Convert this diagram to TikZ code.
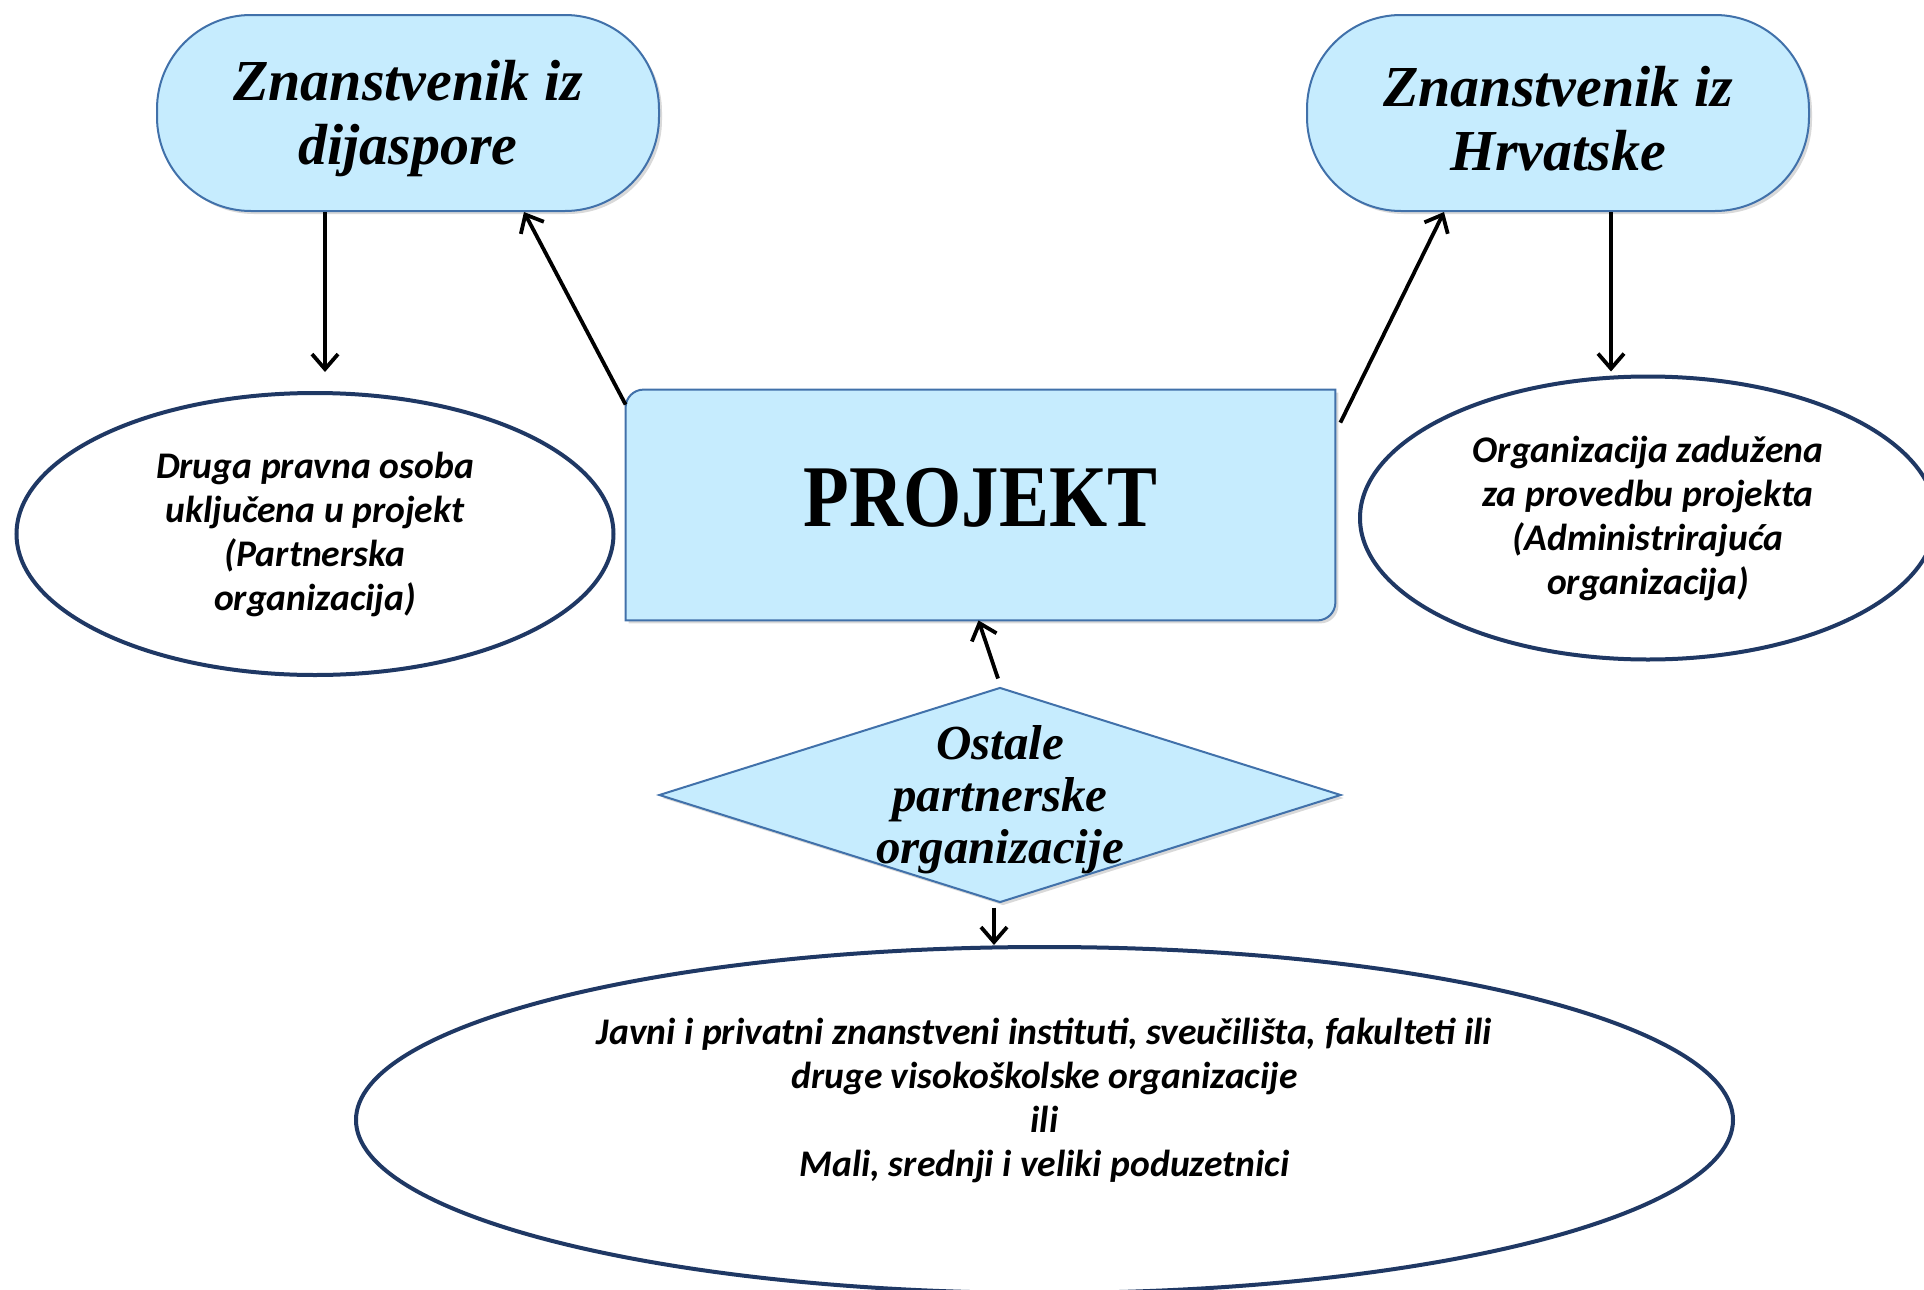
\documentclass[tikz,border=0pt]{standalone}
\usepackage{fontspec}
\setmainfont{Liberation Serif}
\newfontfamily\calibri{Carlito}
\usepackage{tikz,graphicx}
\usetikzlibrary{arrows.meta, shapes.geometric, shadows, calc, backgrounds, positioning}
\definecolor{color1}{RGB}{198,236,254}
\definecolor{color2}{RGB}{65,113,170}
\definecolor{color3}{RGB}{31,56,100}

\begin{document}
\begin{tikzpicture}[x=0.5pt,y=-0.5pt,
	plava/.style={fill=color1,draw=color2,line width=1pt,drop shadow={opacity=0.3,shadow xshift=1.5pt,shadow yshift=-1.5pt}},
	znanstvenik/.style={plava,rounded corners=47pt,minimum width=251pt,minimum height=98pt,inner sep=0pt,align=center,font=\bfseries\itshape\fontsize{29}{32}\selectfont},
	organizacija/.style={ellipse,draw=color3,line width=2pt,fill=white,inner sep=0pt,align=center,font=\calibri\bfseries\itshape\fontsize{18.8}{22}\selectfont},
	strelica/.style={line width=1.9pt,-{Straight Barb[length=7.5pt,width=13pt,line width=1.9pt]}}]
		\clip (0,0) rectangle (1924,1290);
		\node[znanstvenik] (dijaspora) at (408,113) {\\[-6pt]Znanstvenik iz\\dijaspore};
		\node[znanstvenik] (hrvatska) at (1558,113) {\\[-6pt]Znanstvenik iz\\Hrvatske};
		\node[minimum width=354.5pt,minimum height=115pt,inner sep=0pt,font=\bfseries\fontsize{44}{48}\selectfont] (projekt) at (980.5,505) {\scalebox{0.85}[1]{\raisebox{8pt}{PROJEKT}}};
		\begin{scope}[on background layer]
			\path[plava] (projekt.north east) -- ([xshift=9pt]projekt.north west) arc[start angle=270,end angle=180,radius=18] -- (projekt.south west) -- ([xshift=-9pt]projekt.south east) arc[start angle=90,end angle=0,radius=18] -- cycle;
		\end{scope}
		\node[organizacija,minimum width=298.5pt,minimum height=141pt] (partner) at (315,534) {Druga pravna osoba\\uključena u projekt\\(Partnerska\\organizacija)};
		\node[organizacija,minimum width=288pt,minimum height=141.5pt] (administrator) at (1648,518) {Organizacija zadužena\\za provedbu projekta\\(Administrirajuća\\organizacija)};
		\node[plava,diamond,minimum width=341pt,minimum height=107.5pt,inner sep=0pt,
			label={[align=center,font=\bfseries\itshape\fontsize{24.5}{26}\selectfont,yshift=-2.5pt]center:Ostale\\partnerske\\organizacije}] (ostale) at (1000,795) {};
		\node[organizacija,minimum width=688.5pt,minimum height=173pt,
			label={[align=center,font=\calibri\bfseries\itshape\fontsize{18.8}{22}\selectfont,yshift=10pt]center:Javni i privatni znanstveni instituti, sveučilišta, fakulteti ili\\druge visokoškolske organizacije\\ili\\Mali, srednji i veliki poduzetnici}] (institucije) at (1044.5,1120) {};
		
		\coordinate (d1) at ([xshift=-41.5pt]dijaspora.south);
		\draw[strelica,shorten >=9.5pt] (d1) -- (d1 |- partner.north);
		\coordinate (h1) at ([xshift=26.5pt]hrvatska.south);
		\draw[strelica,shorten >=1.5pt] (h1) -- (h1 |- administrator.north);
		\draw[strelica] ([yshift=-7.5pt]projekt.north west) -- ([xshift=58pt]dijaspora.south);
		\draw[strelica] ([xshift=2.5pt,yshift=-16.5pt]projekt.north east) -- ([xshift=-57pt]hrvatska.south);
		\draw[strelica] ([xshift=-1pt,yshift=4pt]ostale.north) -- ([xshift=-1pt]projekt.south);
		\coordinate (o1) at ([xshift=-3pt,yshift=-2pt]ostale.south);
		\draw[strelica] (o1) -- (o1 |- institucije.north);
		
		\end{tikzpicture}
\end{document}
